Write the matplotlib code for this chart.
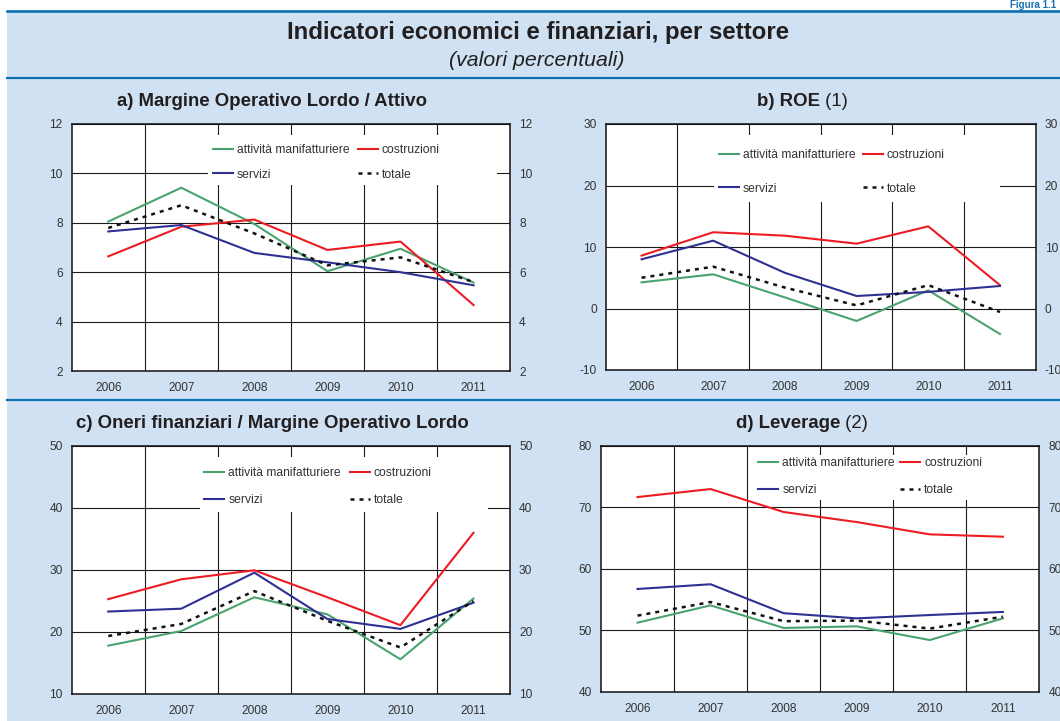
import matplotlib
matplotlib.use('Agg')
import matplotlib.pyplot as plt
from matplotlib.patches import Rectangle
from matplotlib.lines import Line2D

plt.rcParams['font.family'] = ['Liberation Sans', 'DejaVu Sans']
plt.rcParams['axes.unicode_minus'] = False

# ---------------- data ----------------
years = ['2006', '2007', '2008', '2009', '2010', '2011']
series_names = ['attività manifatturiere', 'costruzioni', 'servizi', 'totale']

mol_manif = [8.05, 9.42, 7.95, 6.04, 6.95, 5.58]
mol_costr = [6.64, 7.84, 8.13, 6.90, 7.24, 4.67]
mol_serv = [7.65, 7.91, 6.78, 6.40, 6.00, 5.47]
mol_tot = [7.79, 8.71, 7.57, 6.28, 6.60, 5.60]

roe_manif = [4.25, 5.56, 1.8, -2.03, 2.95, -4.15]
roe_costr = [8.6, 12.4, 11.84, 10.54, 13.36, 3.8]
roe_serv = [8.0, 11.03, 5.8, 2.03, 2.7, 3.66]
roe_tot = [5.0, 6.8, 3.4, 0.5, 3.8, -0.57]

oneri_manif = [17.8, 20.16, 25.6, 22.85, 15.6, 25.4]
oneri_costr = [25.3, 28.5, 29.95, 25.6, 21.1, 36.0]
oneri_serv = [23.3, 23.76, 29.57, 22.1, 20.5, 24.73]
oneri_tot = [19.35, 21.3, 26.6, 21.8, 17.5, 25.0]

lev_manif = [51.26, 54.07, 50.4, 50.66, 48.44, 51.96]
lev_costr = [71.66, 72.96, 69.23, 67.6, 65.6, 65.22]
lev_serv = [56.73, 57.5, 52.8, 51.96, 52.5, 53.0]
lev_tot = [52.4, 54.61, 51.5, 51.6, 50.3, 52.23]

main_title = 'Indicatori economici e finanziari, per settore'
subtitle = '(valori percentuali)'
figure_label = 'Figura 1.1'

# ---------------- styling ----------------
W, H = 1060, 721
BG = '#CFE1F2'
RULE = '#0B70B0'
C_MANIF = '#4AA36E'
C_COSTR = '#ED1C24'
C_SERV = '#2E3192'
C_TOT = '#111111'
TXT = '#231F20'
TICK = '#333333'


def fx(x):
    return x / W


def fy(y):
    return 1 - y / H


fig = plt.figure(figsize=(W / 100, H / 100), dpi=100)
fig.patch.set_facecolor('white')

fig.add_artist(Rectangle((fx(7), 0), 1 - fx(7), fy(10), transform=fig.transFigure,
                         facecolor=BG, edgecolor='none', zorder=0))
for yl, lwpx in [(10.8, 2.6), (78.3, 2.2), (400.3, 2.2)]:
    fig.add_artist(Line2D([fx(7), 1], [fy(yl), fy(yl)], transform=fig.transFigure,
                          color=RULE, lw=lwpx * 0.72, zorder=1))

fig.text(fx(1056), fy(0.5), figure_label, ha='right', va='top', fontsize=7,
         fontweight='bold', color='#1A72B0')
fig.text(fx(538), fy(33), main_title, ha='center', va='center', fontsize=17.3,
         fontweight='bold', color=TXT)
fig.text(fx(537), fy(60), subtitle, ha='center', va='center', fontsize=15.3,
         style='italic', color=TXT)

panels = [
    dict(rect=(71.7, 124, 510.1, 371), ylim=(2, 12), yticks=[2, 4, 6, 8, 10, 12],
         data=(mol_manif, mol_costr, mol_serv, mol_tot),
         tb='a) Margine Operativo Lordo / Attivo', tr='', tpos=(272, 102),
         box=(208, 135, 497, 185), leg=(213, 144), ls=1.04, cs=0.66),
    dict(rect=(605.7, 124, 1035.8, 370), ylim=(-10, 30), yticks=[-10, 0, 10, 20, 30],
         data=(roe_manif, roe_costr, roe_serv, roe_tot),
         tb='b) ROE', tr=' (1)', tpos=(802, 102),
         box=(714, 135, 1000, 202), leg=(719, 149), ls=1.78, cs=0.58),
    dict(rect=(71.7, 446, 510.0, 694), ylim=(10, 50), yticks=[10, 20, 30, 40, 50],
         data=(oneri_manif, oneri_costr, oneri_serv, oneri_tot),
         tb='c) Oneri finanziari / Margine Operativo Lordo', tr='', tpos=(272, 423),
         box=(200, 457, 488, 512), leg=(204.4, 466.9), ls=1.25, cs=0.7),
    dict(rect=(601, 445.7, 1039.4, 692), ylim=(40, 80), yticks=[40, 50, 60, 70, 80],
         data=(lev_manif, lev_costr, lev_serv, lev_tot),
         tb='d) Leverage', tr=' (2)', tpos=(802, 423),
         box=(753, 455, 1039, 500), leg=(758.4, 457.4), ls=1.2, cs=0.41),
]

x = list(range(len(years)))
title_pairs = []
for p in panels:
    l, t, r, b = p['rect']
    ax = fig.add_axes([fx(l), fy(b), fx(r) - fx(l), (b - t) / H])
    ax.set_facecolor('white')
    ax.set_xlim(-0.5, len(years) - 0.5)
    ax.set_ylim(*p['ylim'])
    ax.set_xticks(x)
    ax.set_xticklabels(years)
    ax.set_xticks([i + 0.5 for i in x[:-1]], minor=True)
    ax.set_yticks(p['yticks'])
    ax.set_axisbelow(True)
    ax.grid(True, which='minor', axis='x', color='#1A1A1A', lw=0.8)
    ax.grid(True, which='major', axis='y', color='#1A1A1A', lw=0.8)
    ax.grid(False, which='major', axis='x')
    ax.tick_params(axis='both', which='both', length=0, labelsize=8.6, labelcolor=TICK)
    ax.tick_params(axis='y', labelleft=True, labelright=True, pad=6.5)
    ax.tick_params(axis='x', pad=8)
    for s in ax.spines.values():
        s.set_color('#111111')
        s.set_linewidth(1.1)

    bx0, by0, bx1, by1 = p['box']
    ax.add_artist(Rectangle((fx(bx0), fy(by1)), fx(bx1) - fx(bx0), (by1 - by0) / H,
                            transform=fig.transFigure, facecolor='white', edgecolor='none',
                            zorder=1))

    dm, dc, ds, dt = p['data']
    hm, = ax.plot(x, dm, color=C_MANIF, lw=1.5, zorder=3, label=series_names[0])
    hc, = ax.plot(x, dc, color=C_COSTR, lw=1.5, zorder=3, label=series_names[1])
    hs, = ax.plot(x, ds, color=C_SERV, lw=1.5, zorder=3, label=series_names[2])
    ht, = ax.plot(x, dt, color=C_TOT, lw=1.8, ls=(0, (1.6, 2.0)), zorder=4,
                  label=series_names[3])

    lg = ax.legend([hm, hs, hc, ht],
                   [series_names[0], series_names[2], series_names[1], series_names[3]],
                   ncol=2, loc='upper left',
                   bbox_to_anchor=(fx(p['leg'][0]), fy(p['leg'][1])),
                   bbox_transform=fig.transFigure, frameon=False, fontsize=8.7,
                   borderpad=0, borderaxespad=0, handlelength=1.66, handletextpad=0.33,
                   columnspacing=p['cs'], labelspacing=p['ls'])
    for tx in lg.get_texts():
        tx.set_color(TICK)
    lg.set_zorder(6)

    t1 = fig.text(fx(p['tpos'][0]), fy(p['tpos'][1]), p['tb'], ha='left', va='center',
                  fontsize=13.4, fontweight='bold', color=TXT)
    t2 = None
    if p['tr']:
        t2 = fig.text(fx(p['tpos'][0]), fy(p['tpos'][1]), p['tr'], ha='left', va='center',
                      fontsize=13.4, color=TXT)
    title_pairs.append((t1, t2, p['tpos'][0]))

fig.canvas.draw()
ren = fig.canvas.get_renderer()
for t1, t2, cx in title_pairs:
    w1 = t1.get_window_extent(ren).width
    w2 = t2.get_window_extent(ren).width if t2 is not None else 0
    x0 = cx - (w1 + w2) / 2
    t1.set_x(fx(x0))
    if t2 is not None:
        t2.set_x(fx(x0 + w1))

fig.savefig('out.png', dpi=100, facecolor='white')
